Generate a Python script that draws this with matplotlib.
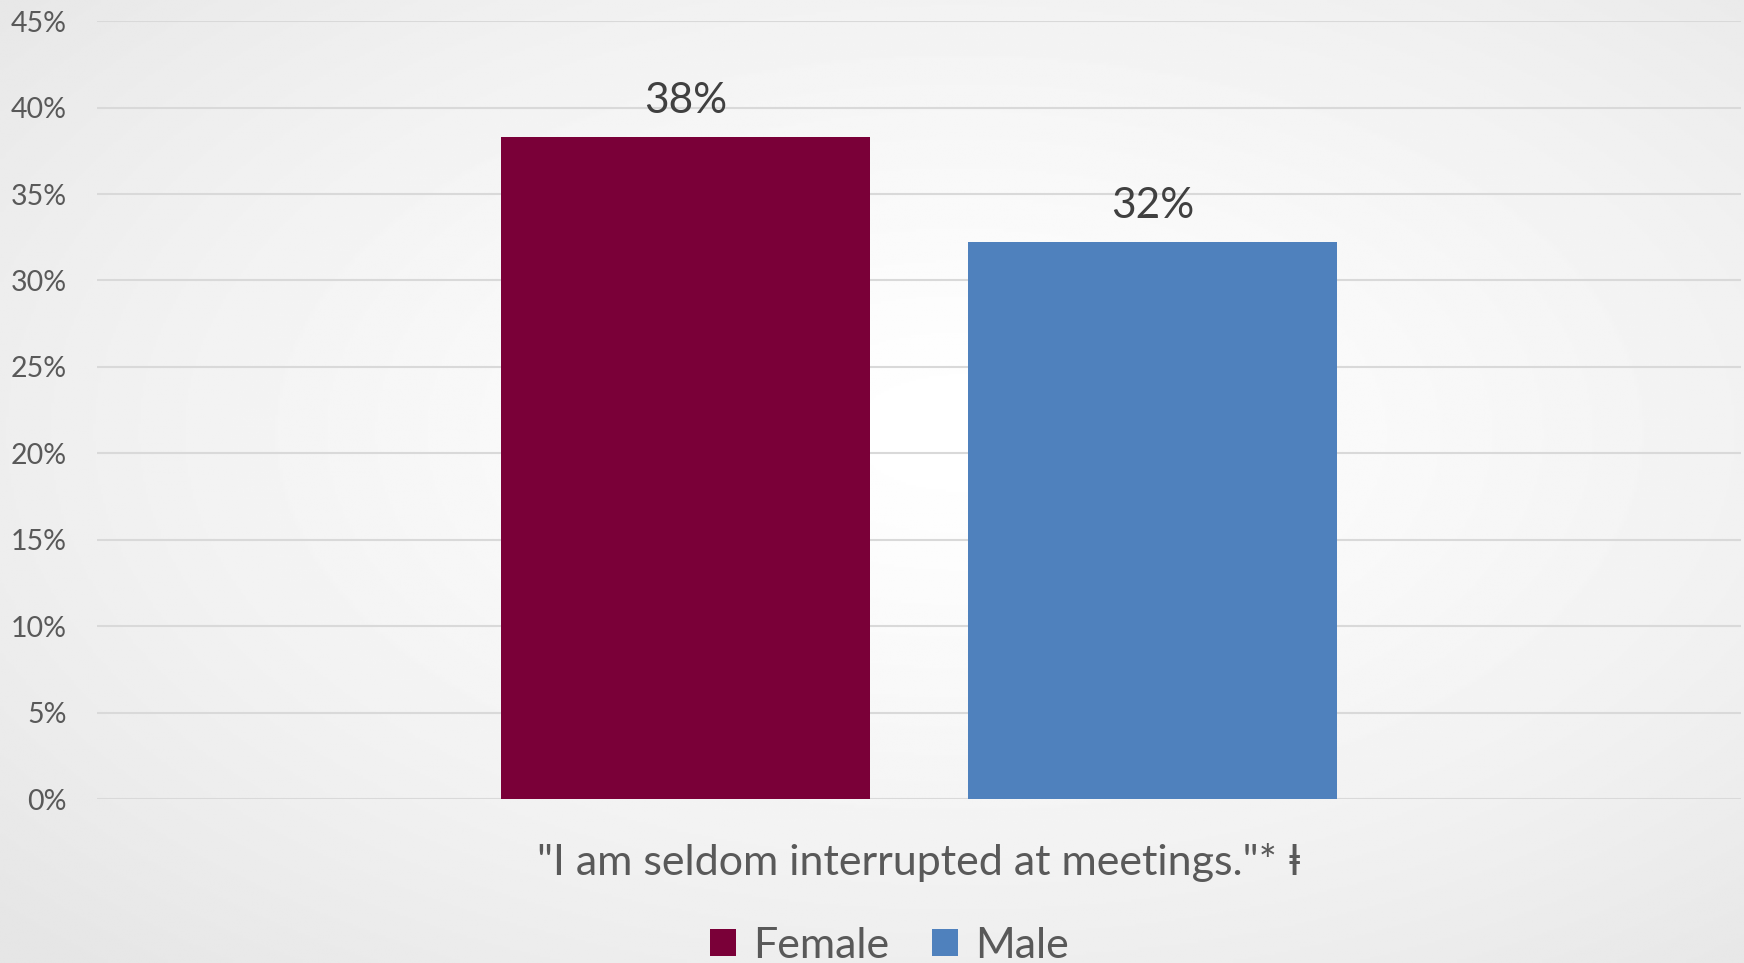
import numpy as np
import matplotlib
matplotlib.use("Agg")
import matplotlib.pyplot as plt
from matplotlib.patches import Patch
from matplotlib.ticker import FuncFormatter, MultipleLocator

plt.rcParams["font.family"] = ["Lato", "DejaVu Sans"]

# survey result, share agreeing (%)
groups = ["Female", "Male"]
shares = [38.3, 32.2]
colors = ["#7A0038", "#4F81BD"]
statement = '"I am seldom interrupted at meetings."* ⱡ'

fig = plt.figure(figsize=(17.44, 9.63), dpi=100)

# soft radial backdrop
bg = fig.add_axes([0, 0, 1, 1], zorder=-10)
yy, xx = np.mgrid[0:1:400j, 0:1:700j]
r = np.sqrt(((xx - 0.55) / 0.75) ** 2 + ((yy - 0.55) / 0.75) ** 2)
shade = 1.0 - 0.10 * np.clip(r, 0, 1) ** 1.3
bg.imshow(shade, cmap="gray", vmin=0, vmax=1, extent=[0, 1, 0, 1],
          aspect="auto", origin="lower")
bg.set_axis_off()

ax = fig.add_axes([0.0556, 0.1703, 0.9427, 0.8077])
ax.patch.set_alpha(0)

width = 0.224
offsets = [-0.142, 0.142]
for off, val, col, name in zip(offsets, shares, colors, groups):
    ax.bar(off, val, width=width, color=col, zorder=3, label=name)
    ax.text(off, val + 1.4, f"{val:.0f}%", ha="center", va="baseline",
            fontsize=30.5, color="#404040", zorder=4)

ax.set_xlim(-0.5, 0.5)
ax.set_ylim(0, 45)
ax.yaxis.set_major_locator(MultipleLocator(5))
ax.yaxis.set_major_formatter(FuncFormatter(lambda v, _: f"{v:.0f}%"))
ax.grid(axis="y", color="#D9D9D9", lw=1.5, zorder=0)
ax.tick_params(axis="y", length=0, pad=22, labelsize=20.5, labelcolor="#595959")
ax.set_xticks([0])
ax.set_xticklabels([statement])
ax.tick_params(axis="x", length=0, pad=32, labelsize=31, labelcolor="#595959")
for s in ax.spines.values():
    s.set_visible(False)

handles = [Patch(facecolor=c, edgecolor="none", label=g) for g, c in zip(groups, colors)]
fig.legend(handles=handles, loc="center", bbox_to_anchor=(0.510, 0.018), ncol=2,
           frameon=False, fontsize=31, labelcolor="#595959",
           handlelength=0.6, handleheight=0.6, handletextpad=0.4,
           columnspacing=1.0, borderpad=0.0)

fig.savefig("out.png", dpi=100)
